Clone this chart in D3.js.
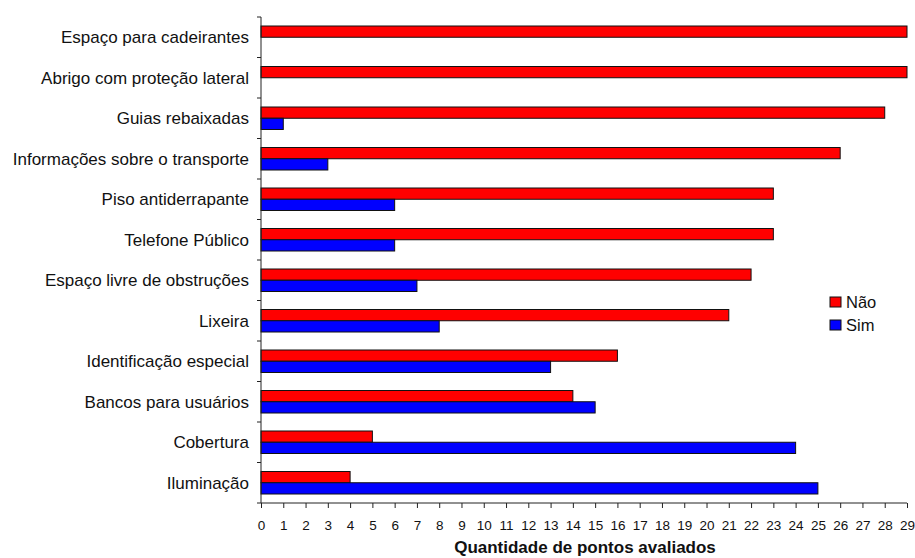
<!DOCTYPE html>
<html>
<head>
<meta charset="utf-8">
<script src="https://cdn.jsdelivr.net/npm/d3@7"></script>
<style>
  html, body { margin: 0; padding: 0; background: #fff; }
  svg { display: block; font-family: "Liberation Sans", Arial, sans-serif; }
</style>
</head>
<body>
<svg id="chart" width="915" height="558"></svg>
<script>
// Accessibility items at bus stops: count of evaluated points per answer
const categories = [
  "Espaço para cadeirantes",
  "Abrigo com proteção lateral",
  "Guias rebaixadas",
  "Informações sobre o transporte",
  "Piso antiderrapante",
  "Telefone Público",
  "Espaço livre de obstruções",
  "Lixeira",
  "Identificação especial",
  "Bancos para usuários",
  "Cobertura",
  "Iluminação"
];
const naoValues = [29, 29, 28, 26, 23, 23, 22, 21, 16, 14, 5, 4];
const simValues = [0, 0, 1, 3, 6, 6, 7, 8, 13, 15, 24, 25];
const seriesNames = ["Não", "Sim"];
const seriesColors = ["#ff0000", "#0000ff"];
const xTicks = d3.range(0, 30);
const xTitle = "Quantidade de pontos avaliados";

const svg = d3.select("#chart");
const plotLeft = 261, plotRight = 907, plotTop = 17, plotBottom = 503;

const x = d3.scaleLinear().domain([0, 29]).range([plotLeft, plotRight]);
const y = d3.scaleBand().domain(categories).range([plotTop, plotBottom]).padding(0);
const inner = d3.scaleBand().domain(seriesNames)
  .range([9, y.bandwidth() - 9]).padding(0);

const rows = categories.map((c, i) => ({ cat: c, vals: [naoValues[i], simValues[i]] }));

// bars
const g = svg.append("g");
rows.forEach(r => {
  r.vals.forEach((v, k) => {
    if (v <= 0) return;
    g.append("rect")
      .attr("x", x(0))
      .attr("y", y(r.cat) + inner(seriesNames[k]))
      .attr("width", x(v) - x(0))
      .attr("height", inner.bandwidth())
      .attr("fill", seriesColors[k])
      .attr("stroke", "#111")
      .attr("stroke-width", 1);
  });
});

// y axis: line with ticks at band boundaries
const yAxisG = svg.append("g");
yAxisG.append("line")
  .attr("x1", plotLeft).attr("x2", plotLeft)
  .attr("y1", plotTop).attr("y2", plotBottom)
  .attr("stroke", "#222").attr("stroke-width", 1);
const bounds = categories.map(c => y(c)).concat([plotBottom]);
yAxisG.selectAll("line.tk").data(bounds).join("line")
  .attr("class", "tk")
  .attr("x1", plotLeft - 4).attr("x2", plotLeft)
  .attr("y1", d => d).attr("y2", d => d)
  .attr("stroke", "#222");
yAxisG.selectAll("text").data(categories).join("text")
  .attr("x", plotLeft - 12)
  .attr("y", d => y(d) + y.bandwidth() / 2)
  .attr("dy", "0.36em")
  .attr("text-anchor", "end")
  .attr("font-size", 17)
  .attr("fill", "#111")
  .text(d => d);

// x axis
const xAxis = d3.axisBottom(x).tickValues(xTicks).tickSize(5).tickPadding(12).tickFormat(d3.format("d"));
const xg = svg.append("g").attr("transform", `translate(0,${plotBottom})`).call(xAxis);
xg.select(".domain").attr("stroke", "#222").attr("d", `M${plotLeft},0H${plotRight}`);
xg.selectAll(".tick line").attr("stroke", "#222");
xg.selectAll(".tick text").attr("font-size", 13.5).attr("fill", "#111")
  .attr("font-family", "Liberation Sans, Arial, sans-serif");

svg.append("text")
  .attr("x", 585).attr("y", 553)
  .attr("text-anchor", "middle")
  .attr("font-size", 17).attr("font-weight", "bold").attr("fill", "#111")
  .text(xTitle);

// legend
const legend = svg.append("g").attr("transform", "translate(830,297)");
seriesNames.forEach((n, i) => {
  const row = legend.append("g").attr("transform", `translate(0,${i * 23})`);
  row.append("rect").attr("x", 0).attr("y", 0).attr("width", 11).attr("height", 10)
    .attr("fill", seriesColors[i]).attr("stroke", "#111");
  row.append("text").attr("x", 16).attr("y", 11)
    .attr("font-size", 16.5).attr("fill", "#111").text(n);
});
</script>
</body>
</html>
